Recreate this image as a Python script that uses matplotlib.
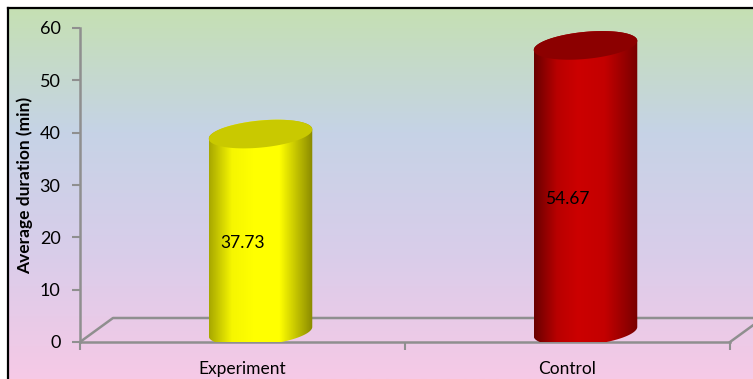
import numpy as np
import matplotlib.pyplot as plt
from matplotlib.colors import LinearSegmentedColormap
from matplotlib.patches import Polygon

plt.rcParams['font.family'] = ['Lato', 'DejaVu Sans']

# data
groups = ['Experiment', 'Control']
durations = [37.73, 54.67]
labels = ['37.73', '54.67']
body_cols = [['#a8a800', '#f6f600', '#ffff00', '#ffff00', '#8a8a00'],
             ['#6a0000', '#b80000', '#cc0000', '#c40000', '#780000']]
top_cols = ['#c9c900', '#8c0000']

W, H = 753, 379
fig = plt.figure(figsize=(W / 100, H / 100), dpi=100)

# gradient background with border on top/left
bg = fig.add_axes([8 / W, 0, 1 - 8 / W, (H - 8) / H], zorder=-5)
grad = LinearSegmentedColormap.from_list('bg', ['#c5e0b3', '#c6d3e6', '#d9cdea', '#f6c9e6'])
bg.imshow(np.linspace(0, 1, 200).reshape(-1, 1), aspect='auto', cmap=grad,
          extent=[0, 1, 0, 1], origin='upper')
bg.set_xticks([])
bg.set_yticks([])
for s in ['right', 'bottom']:
    bg.spines[s].set_visible(False)
for s in ['top', 'left']:
    bg.spines[s].set_linewidth(1.6)
    bg.spines[s].set_color('black')

ax_l, ax_b, ax_w, ax_h = 80, 342, 650, 314
ax = fig.add_axes([ax_l / W, (H - ax_b) / H, ax_w / W, ax_h / H])
ax.set_facecolor('none')
xlo, xhi, ylo, yhi = -0.5, 1.5, 0, 60
sx = (xhi - xlo) / ax_w   # data per pixel
sy = (yhi - ylo) / ax_h

gray = '#8f8f8f'
# floor back line and diagonals
dxf, dyf = 33 * sx, 24 * sy
ax.plot([xlo, xlo + dxf, xhi + dxf], [0, dyf, dyf], color=gray, lw=1.8,
        clip_on=False, zorder=1, solid_capstyle='butt')
ax.plot([xhi, xhi + dxf], [0, dyf], color=gray, lw=1.8, clip_on=False, zorder=1)


def ellipse_pts(cx, cy, t):
    a, b, th = 52, 13.5, np.deg2rad(5.5)
    px = a * np.cos(t) * np.cos(th) - b * np.sin(t) * np.sin(th)
    py = a * np.cos(t) * np.sin(th) + b * np.sin(t) * np.cos(th)
    return np.column_stack([cx + px * sx, cy + py * sy])


for i, (v, lab) in enumerate(zip(durations, labels)):
    cx = i + 18 * sx
    yb = 10.5 * sy
    yt = v + 10.5 * sy
    low = ellipse_pts(cx, yb, np.linspace(np.pi, 2 * np.pi, 60))
    up = ellipse_pts(cx, yt, np.linspace(0, np.pi, 60))
    body = Polygon(np.vstack([low, up]), closed=True, fc='none', ec='none', zorder=3)
    ax.add_patch(body)
    cm = LinearSegmentedColormap.from_list('c%d' % i, list(zip([0, 0.22, 0.42, 0.68, 1], body_cols[i])))
    xs = np.vstack([low, up])[:, 0]
    im = ax.imshow(np.linspace(0, 1, 200).reshape(1, -1), cmap=cm, aspect='auto',
                   extent=[xs.min(), xs.max(), 0, yt + 20 * sy], zorder=3)
    im.set_clip_path(body)
    top = ellipse_pts(cx, yt, np.linspace(0, 2 * np.pi, 120))
    ax.add_patch(Polygon(top, closed=True, fc=top_cols[i], ec='none', zorder=4))
    ax.text(i, v / 2, lab, ha='center', va='center', fontsize=12.5, color='black', zorder=5)

ax.set_xlim(xlo, xhi)
ax.set_ylim(ylo, yhi)
ax.set_yticks(range(0, 61, 10))
ax.set_xticks([0, 1])
ax.set_xticklabels(groups)
ax.set_xticks([-0.5, 0.5, 1.5], minor=True)
ax.tick_params(axis='x', which='major', length=0, pad=14, labelsize=12.5)
ax.tick_params(axis='x', which='minor', length=6, width=1.5, color=gray)
ax.tick_params(axis='y', length=6, width=1.5, color=gray, pad=8, labelsize=13)
for s in ['top', 'right']:
    ax.spines[s].set_visible(False)
for s in ['left', 'bottom']:
    ax.spines[s].set_color(gray)
    ax.spines[s].set_linewidth(1.8)
ax.set_ylabel('Average duration (min)', fontsize=12.5, fontweight='bold', labelpad=5)

fig.savefig('out.png', dpi=100)
